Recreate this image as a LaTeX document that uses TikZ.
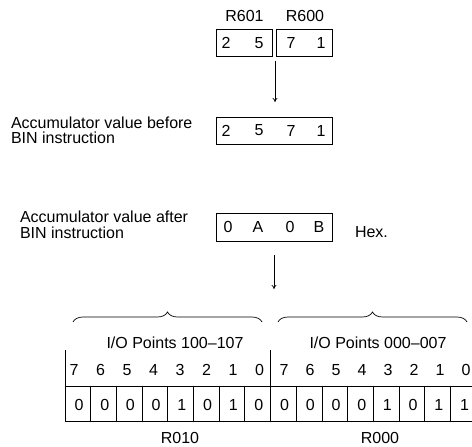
\documentclass[tikz,border=0pt]{standalone}
\usepackage{fontspec}
\setmainfont{Liberation Sans}
\usetikzlibrary{arrows.meta,decorations.pathreplacing}
\begin{document}
\begin{tikzpicture}[x=1pt,y=-1pt,
  every node/.style={font=\fontsize{16}{15.5}\selectfont, inner sep=0pt, outer sep=0pt},
  regbox/.style={draw, line width=0.9pt, minimum height=27pt},
  lbl/.style={align=left, anchor=west},
  conn/.style={line width=0.7pt, -{To[length=4pt,width=5pt]}},
  grid/.style={line width=0.9pt},
  brc/.style={line width=0.7pt, decorate, decoration={brace, amplitude=10pt}}
]
\useasboundingbox (0,0) rectangle (472,447);
% top registers
\node[regbox, minimum width=56pt] (r601) at (244.5,43) {};
\node[regbox, minimum width=56pt] (r600) at (304.8,43) {};
\node (t601) at (244.5,16) {R601};
\node (t600) at (305,16) {R600};
\node (a1) at (226,43) {2};
\node (a2) at (259,43) {5};
\node (a3) at (291,43) {7};
\node (a4) at (321,43) {1};
\coordinate (gap) at (275,61);
\coordinate (gapend) at (275,102);
% accumulator before
\node[regbox, minimum width=115.5pt] (accb) at (274.2,130.5) {};
\node (b1) at (226,130.5) {2};
\node (b2) at (259,130.5) {5};
\node (b3) at (291,130.5) {7};
\node (b4) at (321,130.5) {1};
\node[lbl] (lb) at (11,130.5) {Accumulator value before\\BIN instruction};
\draw[conn] (gap) -- (gapend);
% accumulator after
\node[regbox, minimum width=115.5pt, minimum height=28.5pt] (acca) at (274.2,227.3) {};
\node (c1) at (228,227.3) {0};
\node (c2) at (258,227.3) {A};
\node (c3) at (290,227.3) {0};
\node (c4) at (319,227.3) {B};
\node[lbl] (la) at (20,225) {Accumulator value after\\BIN instruction};
\node[anchor=west] (hex) at (355,232) {Hex.};
\coordinate (d1) at (274,255);
\coordinate (d2) at (274,289);
\draw[conn] (d1) -- (d2);
% braces
\coordinate (bl1) at (73,322);
\coordinate (bl2) at (262,322);
\coordinate (br1) at (278,322);
\coordinate (br2) at (467,322);
\draw[brc] (bl1) -- (bl2);
\draw[brc] (br1) -- (br2);
\node (io1) at (175,343) {I/O Points 100{--}107};
\node (io2) at (378,343) {I/O Points 000{--}007};
% grid
\coordinate (v1t) at (65,350);
\coordinate (v1b) at (65,421.7);
\coordinate (v2t) at (270.6,350);
\coordinate (v2b) at (270.6,421.7);
\coordinate (hl) at (65,386.7);
\coordinate (hr) at (472,386.7);
\coordinate (bl) at (65,421.7);
\coordinate (br) at (472,421.7);
\draw[grid] (v1t) -- (v1b);
\draw[grid] (v2t) -- (v2b);
\draw[grid] (hl) -- (hr);
\draw[grid] (bl) -- (br);
\foreach \k in {1,...,15} {
  \coordinate (cd\k) at ({65+25.7*\k},386.7);
  \draw[grid] (cd\k) -- ++(0,35);
}
\foreach \b [count=\i from 0] in {7,6,5,4,3,2,1,0} {
  \node (bn\i) at ({74+26.5*\i},370) {\b};
  \node (bm\i) at ({284+26*\i},370) {\b};
}
\foreach \v [count=\i from 0] in {0,0,0,0,1,0,1,0,0,0,0,0,1,0,1,1} {
  \node (bv\i) at ({79+25.7*\i},404.5) {\v};
}
\node (r010) at (180,438) {R010};
\node (r000) at (380,438) {R000};
\end{tikzpicture}
\end{document}
